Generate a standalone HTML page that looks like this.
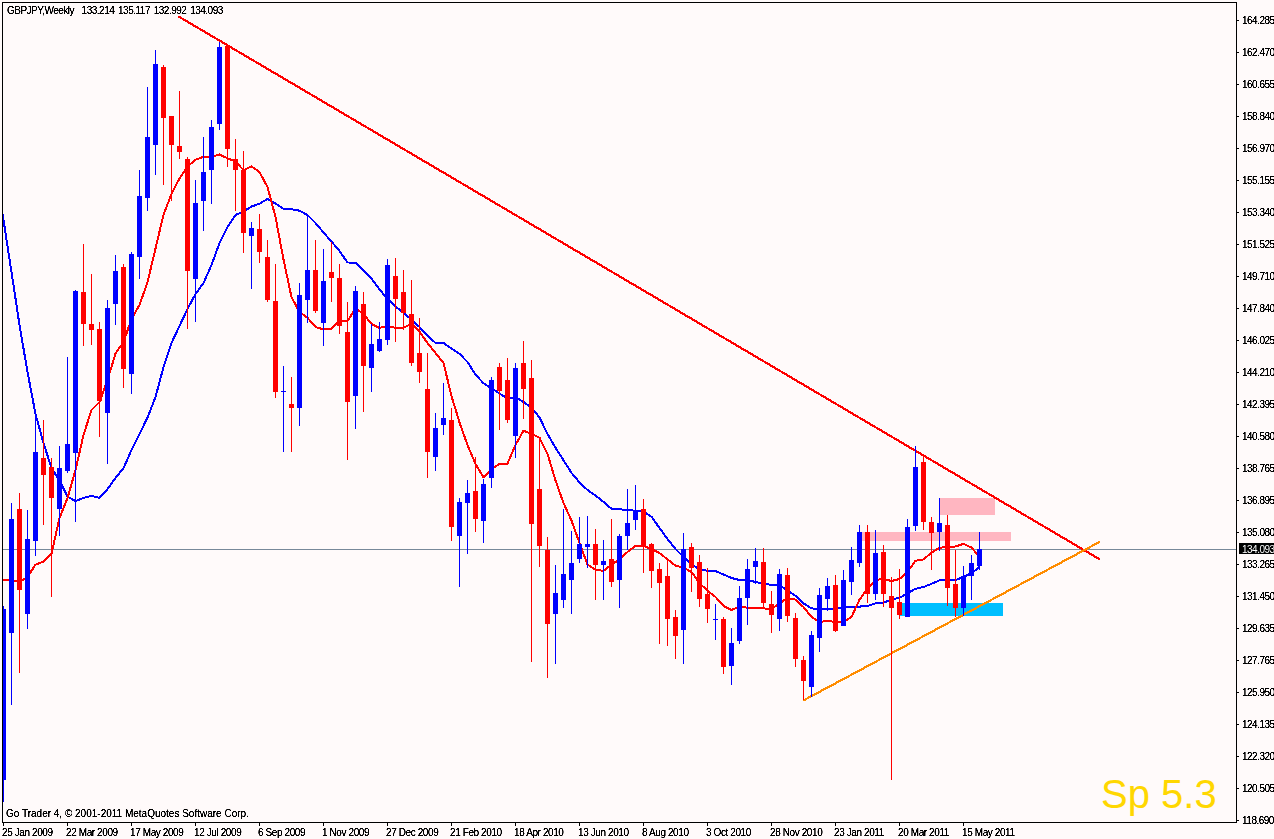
<!DOCTYPE html>
<html><head><meta charset="utf-8"><title>GBPJPY Weekly</title>
<style>
html,body{margin:0;padding:0;background:#FFFAFA;}
body{width:1274px;height:839px;overflow:hidden;position:relative;font-family:"Liberation Sans",sans-serif;}
#chart{position:absolute;left:0;top:0;width:1274px;height:839px;overflow:hidden;background:#FFFAFA;}
svg{position:absolute;left:0;top:0;}
.t{position:absolute;white-space:nowrap;font-size:10px;line-height:10px;color:#000;letter-spacing:-0.5px;}
.yl{left:1242px;}
.ti{word-spacing:1.5px;}
.cp{letter-spacing:0;}
.dt{letter-spacing:-0.4px;}
#txt{position:absolute;left:0;top:0;width:1274px;height:839px;filter:url(#th);}
.sp{position:absolute;left:1101px;top:774px;font-size:40px;line-height:40px;color:#FFD700;white-space:nowrap;}
.pl{position:absolute;left:1239px;top:543px;width:40px;height:11px;background:#000;}
.plt{position:absolute;left:1242px;color:#fff;}
</style></head><body><div id="chart">

<svg width="1274" height="839" viewBox="0 0 1274 839" shape-rendering="crispEdges">
<rect x="859" y="532" width="152" height="9" fill="#FFB6C1"/>
<rect x="939" y="498" width="56" height="17" fill="#FFB6C1"/>
<rect x="899" y="603" width="104" height="13" fill="#00BFFF"/>
<rect x="3" y="549" width="1233" height="1" fill="#778899"/>
<polyline fill="none" stroke="#0000FF" stroke-width="2" stroke-linejoin="round" points="2.5,214.0 3.5,220.0 11.5,272.0 19.5,325.0 27.5,372.0 35.5,414.0 43.5,443.0 51.5,468.0 59.5,480.4 67.5,496.7 75.5,501.0 83.5,498.0 91.5,495.7 99.5,498.0 107.5,489.2 115.5,477.9 123.5,468.3 131.5,450.0 139.5,434.0 147.5,417.6 155.5,397.0 163.5,367.0 171.5,343.0 179.5,326.0 187.5,309.0 195.5,294.0 203.5,283.0 211.5,265.0 219.5,243.0 227.5,227.0 235.5,215.0 243.5,211.5 251.5,206.5 259.5,203.7 267.5,199.0 275.5,203.5 283.5,208.8 291.5,209.2 299.5,210.7 307.5,215.0 315.5,223.0 323.5,232.5 331.5,241.5 339.5,251.0 347.5,262.5 355.5,262.6 363.5,270.5 371.5,278.5 379.5,289.4 387.5,299.0 395.5,306.5 403.5,312.8 411.5,319.7 419.5,327.0 427.5,335.4 435.5,343.0 443.5,343.0 451.5,348.5 459.5,353.8 467.5,362.0 475.5,374.5 483.5,383.3 491.5,388.4 499.5,393.5 507.5,398.5 515.5,397.0 523.5,402.0 531.5,407.5 539.5,417.5 547.5,434.0 555.5,447.7 563.5,460.3 571.5,472.9 579.5,482.4 587.5,490.0 595.5,495.5 603.5,501.8 611.5,508.8 619.5,509.3 627.5,510.0 635.5,510.8 643.5,511.5 651.5,516.7 659.5,528.0 667.5,539.0 675.5,549.0 683.5,556.9 691.5,564.4 699.5,569.4 707.5,570.7 715.5,571.0 723.5,574.5 731.5,578.0 739.5,580.0 747.5,580.0 755.5,582.0 763.5,583.8 771.5,584.8 779.5,585.0 787.5,590.8 795.5,595.8 803.5,603.4 811.5,608.4 819.5,609.0 827.5,609.0 835.5,609.0 843.5,607.0 851.5,607.0 859.5,606.6 867.5,605.9 875.5,603.4 883.5,602.6 891.5,599.6 899.5,597.8 907.5,593.3 915.5,588.8 923.5,587.0 931.5,583.8 939.5,580.3 947.5,580.0 955.5,580.0 963.5,577.0 971.5,573.2 979.5,567.0"/>
<polyline fill="none" stroke="#FF0000" stroke-width="2" stroke-linejoin="round" points="2.5,580.0 3.5,580.0 11.5,580.0 19.5,582.0 27.5,577.0 35.5,564.6 43.5,561.6 51.5,553.8 59.5,518.0 67.5,498.0 75.5,470.0 83.5,435.0 91.5,410.0 99.5,402.0 107.5,380.0 115.5,353.5 123.5,342.0 131.5,319.0 139.5,305.0 147.5,282.3 155.5,248.5 163.5,214.7 171.5,194.0 179.5,178.4 187.5,166.4 195.5,159.8 203.5,156.8 211.5,156.8 219.5,154.5 227.5,158.3 235.5,161.4 243.5,170.2 251.5,166.4 259.5,172.0 267.5,187.0 275.5,217.0 283.5,259.5 291.5,297.0 299.5,312.0 307.5,317.7 315.5,327.0 323.5,329.4 331.5,328.6 339.5,321.0 347.5,321.0 355.5,308.5 363.5,314.0 371.5,324.0 379.5,327.9 387.5,326.0 395.5,327.9 403.5,327.9 411.5,323.5 419.5,331.7 427.5,343.0 435.5,353.0 443.5,363.0 451.5,396.0 459.5,422.6 467.5,445.0 475.5,464.0 483.5,477.4 491.5,469.0 499.5,464.0 507.5,463.6 515.5,445.0 523.5,430.7 531.5,434.0 539.5,437.7 547.5,454.0 555.5,480.4 563.5,503.0 571.5,520.6 579.5,543.0 587.5,564.6 595.5,569.6 603.5,570.9 611.5,564.6 619.5,559.5 627.5,552.0 635.5,545.7 643.5,546.0 651.5,549.0 659.5,553.0 667.5,559.4 675.5,565.7 683.5,567.7 691.5,572.0 699.5,583.0 707.5,590.8 715.5,597.0 723.5,605.9 731.5,609.9 739.5,607.0 747.5,607.6 755.5,607.9 763.5,608.4 771.5,609.0 779.5,603.4 787.5,598.0 795.5,599.6 803.5,607.0 811.5,617.0 819.5,622.0 827.5,621.0 835.5,622.0 843.5,622.0 851.5,617.0 859.5,599.6 867.5,588.8 875.5,580.0 883.5,579.0 891.5,581.0 899.5,579.0 907.5,572.0 915.5,560.7 923.5,559.4 931.5,552.7 939.5,547.8 947.5,547.0 955.5,546.5 963.5,543.8 971.5,547.6 977.5,554.4"/>
<line x1="178.3" y1="16.3" x2="1099.8" y2="559.4" stroke="#FF0000" stroke-width="2.2"/>
<line x1="803.3" y1="700.5" x2="1099.8" y2="541.8" stroke="#FF8C00" stroke-width="2.2"/>
<rect x="3" y="606" width="1" height="196" fill="#0000FF"/>
<rect x="3" y="609" width="3" height="171" fill="#0000FF"/>
<rect x="11" y="503" width="1" height="202" fill="#0000FF"/>
<rect x="9" y="519" width="5" height="114" fill="#0000FF"/>
<rect x="19" y="493" width="1" height="180" fill="#FF0000"/>
<rect x="17" y="509" width="5" height="81" fill="#FF0000"/>
<rect x="27" y="510" width="1" height="119" fill="#0000FF"/>
<rect x="25" y="539" width="5" height="75" fill="#0000FF"/>
<rect x="35" y="414" width="1" height="142" fill="#0000FF"/>
<rect x="33" y="452" width="5" height="89" fill="#0000FF"/>
<rect x="43" y="420" width="1" height="105" fill="#FF0000"/>
<rect x="41" y="458" width="5" height="17" fill="#FF0000"/>
<rect x="51" y="458" width="1" height="139" fill="#FF0000"/>
<rect x="49" y="467" width="5" height="31" fill="#FF0000"/>
<rect x="59" y="446" width="1" height="90" fill="#0000FF"/>
<rect x="57" y="468" width="5" height="41" fill="#0000FF"/>
<rect x="67" y="357" width="1" height="116" fill="#0000FF"/>
<rect x="65" y="444" width="5" height="27" fill="#0000FF"/>
<rect x="75" y="290" width="1" height="232" fill="#0000FF"/>
<rect x="73" y="291" width="5" height="162" fill="#0000FF"/>
<rect x="83" y="244" width="1" height="102" fill="#FF0000"/>
<rect x="81" y="292" width="5" height="32" fill="#FF0000"/>
<rect x="91" y="274" width="1" height="71" fill="#FF0000"/>
<rect x="89" y="324" width="5" height="6" fill="#FF0000"/>
<rect x="99" y="322" width="1" height="115" fill="#FF0000"/>
<rect x="97" y="329" width="5" height="72" fill="#FF0000"/>
<rect x="107" y="300" width="1" height="164" fill="#0000FF"/>
<rect x="105" y="308" width="5" height="105" fill="#0000FF"/>
<rect x="115" y="255" width="1" height="70" fill="#0000FF"/>
<rect x="113" y="271" width="5" height="33" fill="#0000FF"/>
<rect x="123" y="264" width="1" height="124" fill="#FF0000"/>
<rect x="121" y="267" width="5" height="102" fill="#FF0000"/>
<rect x="131" y="252" width="1" height="142" fill="#0000FF"/>
<rect x="129" y="254" width="5" height="120" fill="#0000FF"/>
<rect x="139" y="170" width="1" height="109" fill="#0000FF"/>
<rect x="137" y="196" width="5" height="61" fill="#0000FF"/>
<rect x="147" y="87" width="1" height="124" fill="#0000FF"/>
<rect x="145" y="137" width="5" height="61" fill="#0000FF"/>
<rect x="155" y="50" width="1" height="125" fill="#0000FF"/>
<rect x="153" y="64" width="5" height="81" fill="#0000FF"/>
<rect x="163" y="65" width="1" height="120" fill="#FF0000"/>
<rect x="161" y="67" width="5" height="51" fill="#FF0000"/>
<rect x="171" y="116" width="1" height="85" fill="#FF0000"/>
<rect x="169" y="116" width="5" height="29" fill="#FF0000"/>
<rect x="179" y="91" width="1" height="68" fill="#FF0000"/>
<rect x="177" y="146" width="5" height="6" fill="#FF0000"/>
<rect x="187" y="157" width="1" height="172" fill="#FF0000"/>
<rect x="185" y="159" width="5" height="112" fill="#FF0000"/>
<rect x="195" y="180" width="1" height="142" fill="#0000FF"/>
<rect x="193" y="203" width="5" height="76" fill="#0000FF"/>
<rect x="203" y="137" width="1" height="94" fill="#0000FF"/>
<rect x="201" y="172" width="5" height="29" fill="#0000FF"/>
<rect x="211" y="120" width="1" height="84" fill="#0000FF"/>
<rect x="209" y="127" width="5" height="43" fill="#0000FF"/>
<rect x="219" y="42" width="1" height="88" fill="#0000FF"/>
<rect x="217" y="47" width="5" height="77" fill="#0000FF"/>
<rect x="227" y="45" width="1" height="122" fill="#FF0000"/>
<rect x="225" y="46" width="5" height="103" fill="#FF0000"/>
<rect x="235" y="139" width="1" height="72" fill="#FF0000"/>
<rect x="233" y="159" width="5" height="11" fill="#FF0000"/>
<rect x="243" y="151" width="1" height="102" fill="#FF0000"/>
<rect x="241" y="170" width="5" height="63" fill="#FF0000"/>
<rect x="251" y="222" width="1" height="67" fill="#0000FF"/>
<rect x="249" y="228" width="5" height="8" fill="#0000FF"/>
<rect x="259" y="214" width="1" height="49" fill="#FF0000"/>
<rect x="257" y="229" width="5" height="23" fill="#FF0000"/>
<rect x="267" y="240" width="1" height="62" fill="#FF0000"/>
<rect x="265" y="257" width="5" height="43" fill="#FF0000"/>
<rect x="275" y="264" width="1" height="134" fill="#FF0000"/>
<rect x="273" y="301" width="5" height="91" fill="#FF0000"/>
<rect x="283" y="366" width="1" height="86" fill="#0000FF"/>
<rect x="281" y="391" width="5" height="1" fill="#0000FF"/>
<rect x="291" y="377" width="1" height="75" fill="#FF0000"/>
<rect x="289" y="404" width="5" height="4" fill="#FF0000"/>
<rect x="299" y="283" width="1" height="143" fill="#0000FF"/>
<rect x="297" y="295" width="5" height="113" fill="#0000FF"/>
<rect x="307" y="216" width="1" height="107" fill="#0000FF"/>
<rect x="305" y="270" width="5" height="30" fill="#0000FF"/>
<rect x="315" y="240" width="1" height="73" fill="#FF0000"/>
<rect x="313" y="270" width="5" height="41" fill="#FF0000"/>
<rect x="323" y="249" width="1" height="97" fill="#0000FF"/>
<rect x="321" y="281" width="5" height="42" fill="#0000FF"/>
<rect x="331" y="242" width="1" height="60" fill="#FF0000"/>
<rect x="329" y="272" width="5" height="6" fill="#FF0000"/>
<rect x="339" y="264" width="1" height="70" fill="#FF0000"/>
<rect x="337" y="278" width="5" height="48" fill="#FF0000"/>
<rect x="347" y="302" width="1" height="158" fill="#FF0000"/>
<rect x="345" y="332" width="5" height="70" fill="#FF0000"/>
<rect x="355" y="286" width="1" height="143" fill="#0000FF"/>
<rect x="353" y="291" width="5" height="105" fill="#0000FF"/>
<rect x="363" y="292" width="1" height="120" fill="#FF0000"/>
<rect x="361" y="304" width="5" height="62" fill="#FF0000"/>
<rect x="371" y="324" width="1" height="68" fill="#0000FF"/>
<rect x="369" y="344" width="5" height="24" fill="#0000FF"/>
<rect x="379" y="322" width="1" height="30" fill="#0000FF"/>
<rect x="377" y="339" width="5" height="12" fill="#0000FF"/>
<rect x="387" y="259" width="1" height="86" fill="#0000FF"/>
<rect x="385" y="265" width="5" height="75" fill="#0000FF"/>
<rect x="395" y="258" width="1" height="84" fill="#FF0000"/>
<rect x="393" y="276" width="5" height="23" fill="#FF0000"/>
<rect x="403" y="270" width="1" height="60" fill="#FF0000"/>
<rect x="401" y="292" width="5" height="21" fill="#FF0000"/>
<rect x="411" y="280" width="1" height="86" fill="#FF0000"/>
<rect x="409" y="314" width="5" height="49" fill="#FF0000"/>
<rect x="419" y="318" width="1" height="65" fill="#FF0000"/>
<rect x="417" y="353" width="5" height="19" fill="#FF0000"/>
<rect x="427" y="353" width="1" height="125" fill="#FF0000"/>
<rect x="425" y="389" width="5" height="63" fill="#FF0000"/>
<rect x="435" y="413" width="1" height="58" fill="#0000FF"/>
<rect x="433" y="428" width="5" height="29" fill="#0000FF"/>
<rect x="443" y="383" width="1" height="52" fill="#0000FF"/>
<rect x="441" y="418" width="5" height="7" fill="#0000FF"/>
<rect x="451" y="408" width="1" height="133" fill="#FF0000"/>
<rect x="449" y="420" width="5" height="107" fill="#FF0000"/>
<rect x="459" y="498" width="1" height="89" fill="#0000FF"/>
<rect x="457" y="502" width="5" height="34" fill="#0000FF"/>
<rect x="467" y="480" width="1" height="74" fill="#0000FF"/>
<rect x="465" y="493" width="5" height="10" fill="#0000FF"/>
<rect x="475" y="457" width="1" height="75" fill="#FF0000"/>
<rect x="473" y="491" width="5" height="28" fill="#FF0000"/>
<rect x="483" y="479" width="1" height="64" fill="#0000FF"/>
<rect x="481" y="484" width="5" height="37" fill="#0000FF"/>
<rect x="491" y="377" width="1" height="111" fill="#0000FF"/>
<rect x="489" y="380" width="5" height="98" fill="#0000FF"/>
<rect x="499" y="363" width="1" height="67" fill="#FF0000"/>
<rect x="497" y="367" width="5" height="24" fill="#FF0000"/>
<rect x="507" y="358" width="1" height="65" fill="#FF0000"/>
<rect x="505" y="380" width="5" height="40" fill="#FF0000"/>
<rect x="515" y="363" width="1" height="95" fill="#0000FF"/>
<rect x="513" y="368" width="5" height="68" fill="#0000FF"/>
<rect x="523" y="341" width="1" height="78" fill="#FF0000"/>
<rect x="521" y="363" width="5" height="26" fill="#FF0000"/>
<rect x="531" y="360" width="1" height="302" fill="#FF0000"/>
<rect x="529" y="378" width="5" height="146" fill="#FF0000"/>
<rect x="539" y="438" width="1" height="129" fill="#FF0000"/>
<rect x="537" y="489" width="5" height="57" fill="#FF0000"/>
<rect x="547" y="537" width="1" height="141" fill="#FF0000"/>
<rect x="545" y="550" width="5" height="74" fill="#FF0000"/>
<rect x="555" y="565" width="1" height="99" fill="#0000FF"/>
<rect x="553" y="593" width="5" height="21" fill="#0000FF"/>
<rect x="563" y="509" width="1" height="99" fill="#0000FF"/>
<rect x="561" y="574" width="5" height="26" fill="#0000FF"/>
<rect x="571" y="531" width="1" height="83" fill="#0000FF"/>
<rect x="569" y="563" width="5" height="17" fill="#0000FF"/>
<rect x="579" y="517" width="1" height="46" fill="#0000FF"/>
<rect x="577" y="544" width="5" height="15" fill="#0000FF"/>
<rect x="587" y="516" width="1" height="52" fill="#0000FF"/>
<rect x="585" y="544" width="5" height="3" fill="#0000FF"/>
<rect x="595" y="529" width="1" height="71" fill="#FF0000"/>
<rect x="593" y="544" width="5" height="21" fill="#FF0000"/>
<rect x="603" y="540" width="1" height="60" fill="#0000FF"/>
<rect x="601" y="561" width="5" height="4" fill="#0000FF"/>
<rect x="611" y="519" width="1" height="68" fill="#FF0000"/>
<rect x="609" y="559" width="5" height="23" fill="#FF0000"/>
<rect x="619" y="534" width="1" height="74" fill="#0000FF"/>
<rect x="617" y="536" width="5" height="44" fill="#0000FF"/>
<rect x="627" y="489" width="1" height="61" fill="#0000FF"/>
<rect x="625" y="523" width="5" height="13" fill="#0000FF"/>
<rect x="635" y="485" width="1" height="45" fill="#0000FF"/>
<rect x="633" y="512" width="5" height="8" fill="#0000FF"/>
<rect x="643" y="499" width="1" height="74" fill="#FF0000"/>
<rect x="641" y="509" width="5" height="37" fill="#FF0000"/>
<rect x="651" y="543" width="1" height="45" fill="#FF0000"/>
<rect x="649" y="544" width="5" height="27" fill="#FF0000"/>
<rect x="659" y="563" width="1" height="81" fill="#FF0000"/>
<rect x="657" y="569" width="5" height="14" fill="#FF0000"/>
<rect x="667" y="559" width="1" height="87" fill="#FF0000"/>
<rect x="665" y="576" width="5" height="43" fill="#FF0000"/>
<rect x="675" y="610" width="1" height="49" fill="#FF0000"/>
<rect x="673" y="617" width="5" height="19" fill="#FF0000"/>
<rect x="683" y="533" width="1" height="131" fill="#0000FF"/>
<rect x="681" y="549" width="5" height="81" fill="#0000FF"/>
<rect x="691" y="543" width="1" height="49" fill="#FF0000"/>
<rect x="689" y="547" width="5" height="21" fill="#FF0000"/>
<rect x="699" y="555" width="1" height="52" fill="#FF0000"/>
<rect x="697" y="562" width="5" height="37" fill="#FF0000"/>
<rect x="707" y="568" width="1" height="55" fill="#FF0000"/>
<rect x="705" y="594" width="5" height="15" fill="#FF0000"/>
<rect x="715" y="604" width="1" height="36" fill="#0000FF"/>
<rect x="713" y="619" width="5" height="1" fill="#0000FF"/>
<rect x="723" y="617" width="1" height="57" fill="#FF0000"/>
<rect x="721" y="619" width="5" height="48" fill="#FF0000"/>
<rect x="731" y="628" width="1" height="57" fill="#0000FF"/>
<rect x="729" y="643" width="5" height="23" fill="#0000FF"/>
<rect x="739" y="586" width="1" height="58" fill="#0000FF"/>
<rect x="737" y="598" width="5" height="43" fill="#0000FF"/>
<rect x="747" y="559" width="1" height="66" fill="#0000FF"/>
<rect x="745" y="569" width="5" height="29" fill="#0000FF"/>
<rect x="755" y="548" width="1" height="36" fill="#0000FF"/>
<rect x="753" y="561" width="5" height="6" fill="#0000FF"/>
<rect x="763" y="548" width="1" height="60" fill="#FF0000"/>
<rect x="761" y="562" width="5" height="41" fill="#FF0000"/>
<rect x="771" y="591" width="1" height="42" fill="#FF0000"/>
<rect x="769" y="604" width="5" height="11" fill="#FF0000"/>
<rect x="779" y="569" width="1" height="62" fill="#0000FF"/>
<rect x="777" y="574" width="5" height="45" fill="#0000FF"/>
<rect x="787" y="568" width="1" height="54" fill="#FF0000"/>
<rect x="785" y="575" width="5" height="41" fill="#FF0000"/>
<rect x="795" y="613" width="1" height="54" fill="#FF0000"/>
<rect x="793" y="618" width="5" height="41" fill="#FF0000"/>
<rect x="803" y="656" width="1" height="44" fill="#FF0000"/>
<rect x="801" y="660" width="5" height="21" fill="#FF0000"/>
<rect x="811" y="631" width="1" height="66" fill="#0000FF"/>
<rect x="809" y="635" width="5" height="52" fill="#0000FF"/>
<rect x="819" y="588" width="1" height="64" fill="#0000FF"/>
<rect x="817" y="595" width="5" height="43" fill="#0000FF"/>
<rect x="827" y="578" width="1" height="33" fill="#0000FF"/>
<rect x="825" y="586" width="5" height="13" fill="#0000FF"/>
<rect x="835" y="575" width="1" height="57" fill="#FF0000"/>
<rect x="833" y="585" width="5" height="46" fill="#FF0000"/>
<rect x="843" y="570" width="1" height="56" fill="#0000FF"/>
<rect x="841" y="580" width="5" height="46" fill="#0000FF"/>
<rect x="851" y="547" width="1" height="48" fill="#0000FF"/>
<rect x="849" y="560" width="5" height="22" fill="#0000FF"/>
<rect x="859" y="525" width="1" height="42" fill="#0000FF"/>
<rect x="857" y="532" width="5" height="31" fill="#0000FF"/>
<rect x="867" y="525" width="1" height="78" fill="#FF0000"/>
<rect x="865" y="532" width="5" height="62" fill="#FF0000"/>
<rect x="875" y="530" width="1" height="70" fill="#0000FF"/>
<rect x="873" y="553" width="5" height="41" fill="#0000FF"/>
<rect x="883" y="545" width="1" height="62" fill="#FF0000"/>
<rect x="881" y="552" width="5" height="42" fill="#FF0000"/>
<rect x="891" y="577" width="1" height="203" fill="#FF0000"/>
<rect x="889" y="596" width="5" height="12" fill="#FF0000"/>
<rect x="899" y="569" width="1" height="50" fill="#FF0000"/>
<rect x="897" y="602" width="5" height="13" fill="#FF0000"/>
<rect x="907" y="519" width="1" height="98" fill="#0000FF"/>
<rect x="905" y="527" width="5" height="90" fill="#0000FF"/>
<rect x="915" y="446" width="1" height="85" fill="#0000FF"/>
<rect x="913" y="467" width="5" height="59" fill="#0000FF"/>
<rect x="923" y="455" width="1" height="75" fill="#FF0000"/>
<rect x="921" y="462" width="5" height="60" fill="#FF0000"/>
<rect x="931" y="517" width="1" height="53" fill="#FF0000"/>
<rect x="929" y="522" width="5" height="11" fill="#FF0000"/>
<rect x="939" y="498" width="1" height="53" fill="#0000FF"/>
<rect x="937" y="523" width="5" height="9" fill="#0000FF"/>
<rect x="947" y="515" width="1" height="91" fill="#FF0000"/>
<rect x="945" y="525" width="5" height="63" fill="#FF0000"/>
<rect x="955" y="550" width="1" height="67" fill="#FF0000"/>
<rect x="953" y="584" width="5" height="24" fill="#FF0000"/>
<rect x="963" y="566" width="1" height="50" fill="#0000FF"/>
<rect x="961" y="576" width="5" height="32" fill="#0000FF"/>
<rect x="971" y="555" width="1" height="45" fill="#0000FF"/>
<rect x="969" y="563" width="5" height="13" fill="#0000FF"/>
<rect x="979" y="532" width="1" height="38" fill="#0000FF"/>
<rect x="977" y="549" width="5" height="17" fill="#0000FF"/>
<rect x="2" y="2" width="1235" height="1" fill="#000"/>
<rect x="2" y="822" width="1235" height="1" fill="#000"/>
<rect x="2" y="2" width="1" height="821" fill="#000"/>
<rect x="1236" y="2" width="1" height="821" fill="#000"/>
<rect x="1237" y="20" width="2" height="1" fill="#000"/>
<rect x="1237" y="52" width="2" height="1" fill="#000"/>
<rect x="1237" y="84" width="2" height="1" fill="#000"/>
<rect x="1237" y="116" width="2" height="1" fill="#000"/>
<rect x="1237" y="148" width="2" height="1" fill="#000"/>
<rect x="1237" y="180" width="2" height="1" fill="#000"/>
<rect x="1237" y="212" width="2" height="1" fill="#000"/>
<rect x="1237" y="244" width="2" height="1" fill="#000"/>
<rect x="1237" y="276" width="2" height="1" fill="#000"/>
<rect x="1237" y="308" width="2" height="1" fill="#000"/>
<rect x="1237" y="340" width="2" height="1" fill="#000"/>
<rect x="1237" y="372" width="2" height="1" fill="#000"/>
<rect x="1237" y="404" width="2" height="1" fill="#000"/>
<rect x="1237" y="436" width="2" height="1" fill="#000"/>
<rect x="1237" y="468" width="2" height="1" fill="#000"/>
<rect x="1237" y="500" width="2" height="1" fill="#000"/>
<rect x="1237" y="532" width="2" height="1" fill="#000"/>
<rect x="1237" y="564" width="2" height="1" fill="#000"/>
<rect x="1237" y="596" width="2" height="1" fill="#000"/>
<rect x="1237" y="628" width="2" height="1" fill="#000"/>
<rect x="1237" y="660" width="2" height="1" fill="#000"/>
<rect x="1237" y="692" width="2" height="1" fill="#000"/>
<rect x="1237" y="724" width="2" height="1" fill="#000"/>
<rect x="1237" y="756" width="2" height="1" fill="#000"/>
<rect x="1237" y="788" width="2" height="1" fill="#000"/>
<rect x="1237" y="820" width="2" height="1" fill="#000"/>
<rect x="3" y="823" width="1" height="3" fill="#000"/>
<rect x="67" y="823" width="1" height="3" fill="#000"/>
<rect x="131" y="823" width="1" height="3" fill="#000"/>
<rect x="195" y="823" width="1" height="3" fill="#000"/>
<rect x="259" y="823" width="1" height="3" fill="#000"/>
<rect x="323" y="823" width="1" height="3" fill="#000"/>
<rect x="387" y="823" width="1" height="3" fill="#000"/>
<rect x="451" y="823" width="1" height="3" fill="#000"/>
<rect x="515" y="823" width="1" height="3" fill="#000"/>
<rect x="579" y="823" width="1" height="3" fill="#000"/>
<rect x="643" y="823" width="1" height="3" fill="#000"/>
<rect x="707" y="823" width="1" height="3" fill="#000"/>
<rect x="771" y="823" width="1" height="3" fill="#000"/>
<rect x="835" y="823" width="1" height="3" fill="#000"/>
<rect x="899" y="823" width="1" height="3" fill="#000"/>
<rect x="963" y="823" width="1" height="3" fill="#000"/>
</svg>
<svg width="0" height="0" style="position:absolute"><defs><filter id="th" x="0" y="0" width="100%" height="100%" color-interpolation-filters="sRGB"><feComponentTransfer><feFuncA type="linear" slope="2.6" intercept="-0.42"/></feComponentTransfer></filter></defs></svg>
<div id="txt">
<div class="t yl" style="top:16px">164.285</div>
<div class="t yl" style="top:48px">162.470</div>
<div class="t yl" style="top:80px">160.655</div>
<div class="t yl" style="top:112px">158.840</div>
<div class="t yl" style="top:144px">156.970</div>
<div class="t yl" style="top:176px">155.155</div>
<div class="t yl" style="top:208px">153.340</div>
<div class="t yl" style="top:240px">151.525</div>
<div class="t yl" style="top:272px">149.710</div>
<div class="t yl" style="top:304px">147.840</div>
<div class="t yl" style="top:336px">146.025</div>
<div class="t yl" style="top:368px">144.210</div>
<div class="t yl" style="top:400px">142.395</div>
<div class="t yl" style="top:432px">140.580</div>
<div class="t yl" style="top:464px">138.765</div>
<div class="t yl" style="top:496px">136.895</div>
<div class="t yl" style="top:528px">135.080</div>
<div class="t yl" style="top:560px">133.265</div>
<div class="t yl" style="top:592px">131.450</div>
<div class="t yl" style="top:624px">129.635</div>
<div class="t yl" style="top:656px">127.765</div>
<div class="t yl" style="top:688px">125.950</div>
<div class="t yl" style="top:720px">124.135</div>
<div class="t yl" style="top:752px">122.320</div>
<div class="t yl" style="top:784px">120.505</div>
<div class="t yl" style="top:816px">118.690</div>
<div class="t dt" style="left:2px;top:828px">25 Jan 2009</div>
<div class="t dt" style="left:66px;top:828px">22 Mar 2009</div>
<div class="t dt" style="left:130px;top:828px">17 May 2009</div>
<div class="t dt" style="left:194px;top:828px">12 Jul 2009</div>
<div class="t dt" style="left:258px;top:828px">6 Sep 2009</div>
<div class="t dt" style="left:322px;top:828px">1 Nov 2009</div>
<div class="t dt" style="left:386px;top:828px">27 Dec 2009</div>
<div class="t dt" style="left:450px;top:828px">21 Feb 2010</div>
<div class="t dt" style="left:514px;top:828px">18 Apr 2010</div>
<div class="t dt" style="left:578px;top:828px">13 Jun 2010</div>
<div class="t dt" style="left:642px;top:828px">8 Aug 2010</div>
<div class="t dt" style="left:706px;top:828px">3 Oct 2010</div>
<div class="t dt" style="left:770px;top:828px">28 Nov 2010</div>
<div class="t dt" style="left:834px;top:828px">23 Jan 2011</div>
<div class="t dt" style="left:898px;top:828px">20 Mar 2011</div>
<div class="t dt" style="left:962px;top:828px">15 May 2011</div>
<div class="t ti" style="left:7px;top:6px">GBPJPY,Weekly&nbsp; 133.214 135.117 132.992 134.093</div>
<div class="t cp" style="left:6px;top:809px">Go Trader 4, © 2001-2011 MetaQuotes Software Corp.</div>
<div class="pl"></div><div class="t plt" style="top:545px">134.093</div>
</div>
<div class="sp">Sp 5.3</div>
</div></body></html>
